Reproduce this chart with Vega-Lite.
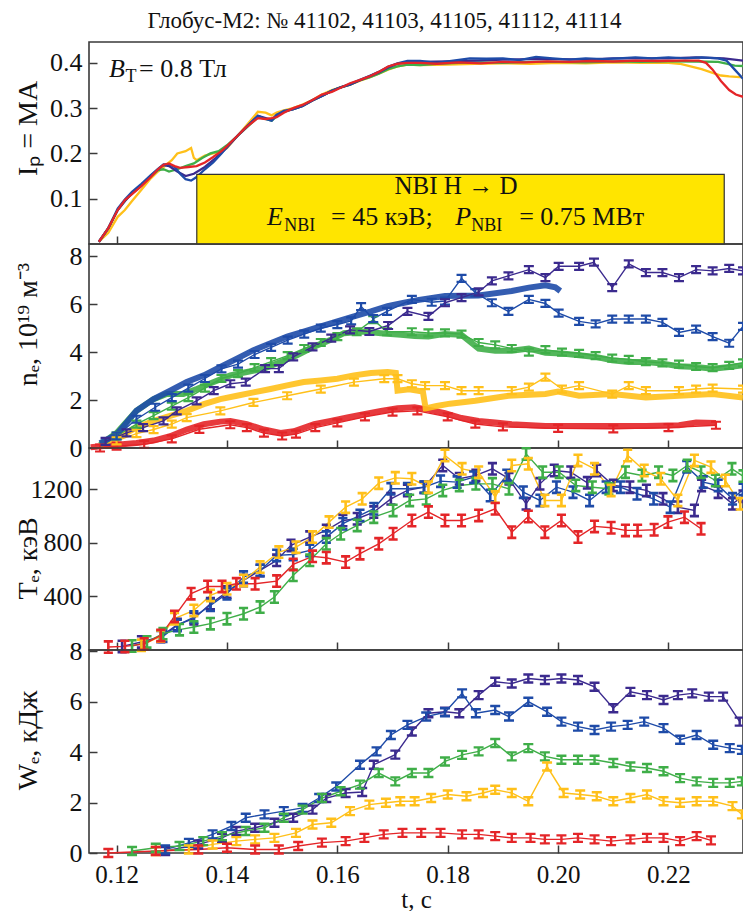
{
  "$schema": "https://vega.github.io/schema/vega-lite/v6.json",
  "background": "white",
  "padding": {"left": 13, "top": 10, "right": 0, "bottom": 0},
  "bounds": "flush",
  "spacing": 0,
  "title": {"text": "Глобус-М2: № 41102, 41103, 41105, 41112, 41114", "font": "Liberation Serif", "fontSize": 23, "fontWeight": "normal", "color": "#111", "anchor": "middle", "frame": "bounds", "offset": 8},
  "config": {
    "font": "Liberation Serif",
    "view": {"stroke": "#3a3a3a", "strokeWidth": 1.6},
    "axis": {"labelFont": "Liberation Serif", "titleFont": "Liberation Serif", "labelFontSize": 26, "titleFontSize": 28, "labelColor": "#111", "titleColor": "#111", "titleFontWeight": "normal", "grid": false, "domain": false, "tickColor": "#3a3a3a", "tickWidth": 1.5, "tickSize": -8, "zindex": 1},
    "axisY": {"labelPadding": 15, "titleX": -47, "labelFont": "Liberation Serif", "labelFontSize": 26},
    "axisX": {"labelPadding": 17, "labelFont": "Liberation Serif", "labelFontSize": 25},
    "line": {"clip": true},
    "point": {"clip": true}
  },
  "datasets": {
    "ip": [
      {"s":"41103","t":0.1168,"v":0.005},{"s":"41103","t":0.1185,"v":0.025},{"s":"41103","t":0.1202,"v":0.06},{"s":"41103","t":0.1215,"v":0.075},{"s":"41103","t":0.1228,"v":0.095},{"s":"41103","t":0.1245,"v":0.12},{"s":"41103","t":0.1262,"v":0.145},{"s":"41103","t":0.1275,"v":0.16},{"s":"41103","t":0.1285,"v":0.17},{"s":"41103","t":0.13,"v":0.185},{"s":"41103","t":0.131,"v":0.2},{"s":"41103","t":0.1325,"v":0.205},{"s":"41103","t":0.1335,"v":0.212},{"s":"41103","t":0.134,"v":0.19},{"s":"41103","t":0.1345,"v":0.185},{"s":"41103","t":0.136,"v":0.195},{"s":"41103","t":0.1375,"v":0.2},{"s":"41103","t":0.139,"v":0.205},{"s":"41103","t":0.14,"v":0.212},{"s":"41103","t":0.142,"v":0.24},{"s":"41103","t":0.1434,"v":0.26},{"s":"41103","t":0.1456,"v":0.292},{"s":"41103","t":0.147,"v":0.29},{"s":"41103","t":0.1481,"v":0.284},{"s":"41103","t":0.149,"v":0.29},{"s":"41103","t":0.1503,"v":0.295},{"s":"41103","t":0.152,"v":0.3},{"s":"41103","t":0.1537,"v":0.308},{"s":"41103","t":0.1555,"v":0.318},{"s":"41103","t":0.1572,"v":0.33},{"s":"41103","t":0.159,"v":0.34},{"s":"41103","t":0.1606,"v":0.346},{"s":"41103","t":0.1623,"v":0.352},{"s":"41103","t":0.164,"v":0.36},{"s":"41103","t":0.1658,"v":0.368},{"s":"41103","t":0.1675,"v":0.376},{"s":"41103","t":0.1692,"v":0.385},{"s":"41103","t":0.1709,"v":0.392},{"s":"41103","t":0.1727,"v":0.396},{"s":"41103","t":0.175,"v":0.395},{"s":"41103","t":0.18,"v":0.396},{"s":"41103","t":0.185,"v":0.398},{"s":"41103","t":0.19,"v":0.399},{"s":"41103","t":0.195,"v":0.398},{"s":"41103","t":0.2,"v":0.4},{"s":"41103","t":0.205,"v":0.399},{"s":"41103","t":0.21,"v":0.401},{"s":"41103","t":0.215,"v":0.4},{"s":"41103","t":0.22,"v":0.4},{"s":"41103","t":0.222,"v":0.398},{"s":"41103","t":0.224,"v":0.392},{"s":"41103","t":0.226,"v":0.386},{"s":"41103","t":0.228,"v":0.378},{"s":"41103","t":0.2295,"v":0.372},{"s":"41103","t":0.231,"v":0.37},{"s":"41103","t":0.2335,"v":0.368},
      {"s":"41105","t":0.1168,"v":0.005},{"s":"41105","t":0.1185,"v":0.035},{"s":"41105","t":0.1202,"v":0.075},{"s":"41105","t":0.1215,"v":0.095},{"s":"41105","t":0.1228,"v":0.112},{"s":"41105","t":0.1245,"v":0.13},{"s":"41105","t":0.1262,"v":0.15},{"s":"41105","t":0.1275,"v":0.163},{"s":"41105","t":0.1285,"v":0.165},{"s":"41105","t":0.1295,"v":0.16},{"s":"41105","t":0.131,"v":0.165},{"s":"41105","t":0.1325,"v":0.172},{"s":"41105","t":0.134,"v":0.178},{"s":"41105","t":0.1355,"v":0.19},{"s":"41105","t":0.137,"v":0.2},{"s":"41105","t":0.1385,"v":0.205},{"s":"41105","t":0.14,"v":0.218},{"s":"41105","t":0.142,"v":0.24},{"s":"41105","t":0.1434,"v":0.255},{"s":"41105","t":0.1456,"v":0.28},{"s":"41105","t":0.147,"v":0.276},{"s":"41105","t":0.1481,"v":0.272},{"s":"41105","t":0.149,"v":0.282},{"s":"41105","t":0.1503,"v":0.292},{"s":"41105","t":0.152,"v":0.298},{"s":"41105","t":0.1537,"v":0.305},{"s":"41105","t":0.1555,"v":0.317},{"s":"41105","t":0.1572,"v":0.327},{"s":"41105","t":0.159,"v":0.338},{"s":"41105","t":0.1606,"v":0.346},{"s":"41105","t":0.1623,"v":0.352},{"s":"41105","t":0.164,"v":0.361},{"s":"41105","t":0.1658,"v":0.368},{"s":"41105","t":0.1675,"v":0.376},{"s":"41105","t":0.1692,"v":0.386},{"s":"41105","t":0.1709,"v":0.392},{"s":"41105","t":0.1727,"v":0.396},{"s":"41105","t":0.175,"v":0.395},{"s":"41105","t":0.178,"v":0.398},{"s":"41105","t":0.182,"v":0.4},{"s":"41105","t":0.186,"v":0.401},{"s":"41105","t":0.19,"v":0.4},{"s":"41105","t":0.195,"v":0.402},{"s":"41105","t":0.2,"v":0.402},{"s":"41105","t":0.205,"v":0.401},{"s":"41105","t":0.21,"v":0.403},{"s":"41105","t":0.215,"v":0.402},{"s":"41105","t":0.22,"v":0.403},{"s":"41105","t":0.225,"v":0.403},{"s":"41105","t":0.229,"v":0.402},{"s":"41105","t":0.2305,"v":0.398},{"s":"41105","t":0.232,"v":0.394},{"s":"41105","t":0.2335,"v":0.393},
      {"s":"41114","t":0.1168,"v":0.005},{"s":"41114","t":0.1185,"v":0.035},{"s":"41114","t":0.1202,"v":0.075},{"s":"41114","t":0.1215,"v":0.095},{"s":"41114","t":0.1228,"v":0.112},{"s":"41114","t":0.1245,"v":0.13},{"s":"41114","t":0.1262,"v":0.15},{"s":"41114","t":0.1275,"v":0.165},{"s":"41114","t":0.1285,"v":0.174},{"s":"41114","t":0.1295,"v":0.172},{"s":"41114","t":0.131,"v":0.16},{"s":"41114","t":0.1325,"v":0.15},{"s":"41114","t":0.134,"v":0.155},{"s":"41114","t":0.136,"v":0.17},{"s":"41114","t":0.138,"v":0.19},{"s":"41114","t":0.14,"v":0.213},{"s":"41114","t":0.142,"v":0.24},{"s":"41114","t":0.1434,"v":0.257},{"s":"41114","t":0.1456,"v":0.283},{"s":"41114","t":0.147,"v":0.278},{"s":"41114","t":0.1481,"v":0.274},{"s":"41114","t":0.149,"v":0.285},{"s":"41114","t":0.1503,"v":0.292},{"s":"41114","t":0.152,"v":0.298},{"s":"41114","t":0.1537,"v":0.305},{"s":"41114","t":0.1555,"v":0.317},{"s":"41114","t":0.1572,"v":0.327},{"s":"41114","t":0.159,"v":0.338},{"s":"41114","t":0.1606,"v":0.346},{"s":"41114","t":0.1623,"v":0.352},{"s":"41114","t":0.164,"v":0.361},{"s":"41114","t":0.1658,"v":0.37},{"s":"41114","t":0.1675,"v":0.379},{"s":"41114","t":0.1692,"v":0.39},{"s":"41114","t":0.1709,"v":0.398},{"s":"41114","t":0.1727,"v":0.402},{"s":"41114","t":0.175,"v":0.402},{"s":"41114","t":0.18,"v":0.403},{"s":"41114","t":0.185,"v":0.405},{"s":"41114","t":0.19,"v":0.407},{"s":"41114","t":0.195,"v":0.408},{"s":"41114","t":0.2,"v":0.408},{"s":"41114","t":0.205,"v":0.407},{"s":"41114","t":0.21,"v":0.41},{"s":"41114","t":0.215,"v":0.41},{"s":"41114","t":0.22,"v":0.41},{"s":"41114","t":0.225,"v":0.412},{"s":"41114","t":0.23,"v":0.41},{"s":"41114","t":0.2335,"v":0.405},
      {"s":"41112","t":0.1168,"v":0.005},{"s":"41112","t":0.1185,"v":0.035},{"s":"41112","t":0.1202,"v":0.078},{"s":"41112","t":0.1215,"v":0.098},{"s":"41112","t":0.1228,"v":0.115},{"s":"41112","t":0.1245,"v":0.133},{"s":"41112","t":0.1262,"v":0.152},{"s":"41112","t":0.1275,"v":0.166},{"s":"41112","t":0.1285,"v":0.176},{"s":"41112","t":0.1295,"v":0.176},{"s":"41112","t":0.1305,"v":0.17},{"s":"41112","t":0.1315,"v":0.155},{"s":"41112","t":0.1325,"v":0.143},{"s":"41112","t":0.1335,"v":0.14},{"s":"41112","t":0.1345,"v":0.148},{"s":"41112","t":0.136,"v":0.165},{"s":"41112","t":0.1375,"v":0.18},{"s":"41112","t":0.139,"v":0.2},{"s":"41112","t":0.14,"v":0.214},{"s":"41112","t":0.142,"v":0.24},{"s":"41112","t":0.1434,"v":0.257},{"s":"41112","t":0.1456,"v":0.283},{"s":"41112","t":0.147,"v":0.276},{"s":"41112","t":0.1481,"v":0.272},{"s":"41112","t":0.149,"v":0.285},{"s":"41112","t":0.1503,"v":0.294},{"s":"41112","t":0.152,"v":0.298},{"s":"41112","t":0.1537,"v":0.305},{"s":"41112","t":0.1555,"v":0.318},{"s":"41112","t":0.1572,"v":0.327},{"s":"41112","t":0.159,"v":0.338},{"s":"41112","t":0.1606,"v":0.346},{"s":"41112","t":0.1623,"v":0.353},{"s":"41112","t":0.164,"v":0.362},{"s":"41112","t":0.1658,"v":0.371},{"s":"41112","t":0.1675,"v":0.38},{"s":"41112","t":0.1692,"v":0.391},{"s":"41112","t":0.1709,"v":0.399},{"s":"41112","t":0.1727,"v":0.404},{"s":"41112","t":0.175,"v":0.404},{"s":"41112","t":0.178,"v":0.4},{"s":"41112","t":0.181,"v":0.405},{"s":"41112","t":0.184,"v":0.41},{"s":"41112","t":0.187,"v":0.409},{"s":"41112","t":0.19,"v":0.41},{"s":"41112","t":0.193,"v":0.406},{"s":"41112","t":0.196,"v":0.413},{"s":"41112","t":0.199,"v":0.41},{"s":"41112","t":0.202,"v":0.407},{"s":"41112","t":0.205,"v":0.41},{"s":"41112","t":0.208,"v":0.408},{"s":"41112","t":0.211,"v":0.41},{"s":"41112","t":0.214,"v":0.412},{"s":"41112","t":0.217,"v":0.41},{"s":"41112","t":0.22,"v":0.412},{"s":"41112","t":0.223,"v":0.41},{"s":"41112","t":0.226,"v":0.412},{"s":"41112","t":0.229,"v":0.41},{"s":"41112","t":0.2305,"v":0.405},{"s":"41112","t":0.232,"v":0.385},{"s":"41112","t":0.2335,"v":0.365},
      {"s":"41102","t":0.1168,"v":0.005},{"s":"41102","t":0.1185,"v":0.035},{"s":"41102","t":0.1202,"v":0.075},{"s":"41102","t":0.1215,"v":0.097},{"s":"41102","t":0.1228,"v":0.11},{"s":"41102","t":0.1245,"v":0.128},{"s":"41102","t":0.1262,"v":0.148},{"s":"41102","t":0.1275,"v":0.165},{"s":"41102","t":0.1285,"v":0.175},{"s":"41102","t":0.1295,"v":0.178},{"s":"41102","t":0.1305,"v":0.172},{"s":"41102","t":0.1315,"v":0.168},{"s":"41102","t":0.133,"v":0.17},{"s":"41102","t":0.1345,"v":0.172},{"s":"41102","t":0.136,"v":0.18},{"s":"41102","t":0.1375,"v":0.192},{"s":"41102","t":0.139,"v":0.205},{"s":"41102","t":0.14,"v":0.216},{"s":"41102","t":0.142,"v":0.24},{"s":"41102","t":0.1434,"v":0.257},{"s":"41102","t":0.1456,"v":0.278},{"s":"41102","t":0.147,"v":0.276},{"s":"41102","t":0.1481,"v":0.278},{"s":"41102","t":0.149,"v":0.28},{"s":"41102","t":0.1503,"v":0.29},{"s":"41102","t":0.152,"v":0.3},{"s":"41102","t":0.1537,"v":0.307},{"s":"41102","t":0.1555,"v":0.318},{"s":"41102","t":0.1572,"v":0.33},{"s":"41102","t":0.159,"v":0.336},{"s":"41102","t":0.1606,"v":0.345},{"s":"41102","t":0.1623,"v":0.355},{"s":"41102","t":0.164,"v":0.362},{"s":"41102","t":0.1658,"v":0.37},{"s":"41102","t":0.1675,"v":0.38},{"s":"41102","t":0.1692,"v":0.392},{"s":"41102","t":0.1709,"v":0.398},{"s":"41102","t":0.1727,"v":0.4},{"s":"41102","t":0.175,"v":0.4},{"s":"41102","t":0.178,"v":0.398},{"s":"41102","t":0.182,"v":0.401},{"s":"41102","t":0.186,"v":0.399},{"s":"41102","t":0.19,"v":0.402},{"s":"41102","t":0.194,"v":0.401},{"s":"41102","t":0.198,"v":0.403},{"s":"41102","t":0.202,"v":0.402},{"s":"41102","t":0.206,"v":0.404},{"s":"41102","t":0.21,"v":0.403},{"s":"41102","t":0.214,"v":0.405},{"s":"41102","t":0.218,"v":0.404},{"s":"41102","t":0.222,"v":0.405},{"s":"41102","t":0.2255,"v":0.405},{"s":"41102","t":0.2268,"v":0.4},{"s":"41102","t":0.228,"v":0.385},{"s":"41102","t":0.2295,"v":0.36},{"s":"41102","t":0.231,"v":0.34},{"s":"41102","t":0.2322,"v":0.33},{"s":"41102","t":0.2335,"v":0.325}
    ],
    "nbi": [{"t0": 0.13453, "t1": 0.2301, "y0": 0, "y1": 0.1537}],
    "annVar": [{"t": 0.11864, "v": 0.369, "text": "B"}, {"t": 0.14727, "v": 0.041, "text": "E"}, {"t": 0.18134, "v": 0.041, "text": "P"}],
    "annSub": [{"t": 0.12161, "v": 0.357, "text": "T"}, {"t": 0.15036, "v": 0.029, "text": "NBI"}, {"t": 0.18424, "v": 0.029, "text": "NBI"}],
    "annReg": [{"t": 0.12406, "v": 0.369, "text": "= 0.8 Тл"}, {"t": 0.15887, "v": 0.041, "text": "= 45 кэВ;"}, {"t": 0.19294, "v": 0.041, "text": "= 0.75 МВт"}],
    "annMid": [{"t": 0.1815, "v": 0.11, "text": "NBI H → D"}],
    "ne": [
      {"s":"41102","k":"thick","t":0.1153,"v":0.03},{"s":"41102","k":"thick","t":0.12,"v":0.14},{"s":"41102","k":"thick","t":0.1236,"v":0.21},{"s":"41102","k":"thick","t":0.1267,"v":0.31},{"s":"41102","k":"thick","t":0.1297,"v":0.49},{"s":"41102","k":"thick","t":0.1327,"v":0.77},{"s":"41102","k":"thick","t":0.1358,"v":0.99},{"s":"41102","k":"thick","t":0.1388,"v":1.1},{"s":"41102","k":"thick","t":0.1406,"v":1.13},{"s":"41102","k":"thick","t":0.1436,"v":0.99},{"s":"41102","k":"thick","t":0.1467,"v":0.77},{"s":"41102","k":"thick","t":0.1497,"v":0.63},{"s":"41102","k":"thick","t":0.1521,"v":0.7},{"s":"41102","k":"thick","t":0.1558,"v":0.99},{"s":"41102","k":"thick","t":0.1588,"v":1.13},{"s":"41102","k":"thick","t":0.1618,"v":1.27},{"s":"41102","k":"thick","t":0.1648,"v":1.41},{"s":"41102","k":"thick","t":0.1679,"v":1.55},{"s":"41102","k":"thick","t":0.1709,"v":1.66},{"s":"41102","k":"thick","t":0.174,"v":1.7},{"s":"41102","k":"thick","t":0.1765,"v":1.6},{"s":"41102","k":"thick","t":0.1795,"v":1.45},{"s":"41102","k":"thick","t":0.1825,"v":1.25},{"s":"41102","k":"thick","t":0.1856,"v":1.13},{"s":"41102","k":"thick","t":0.1886,"v":1.06},{"s":"41102","k":"thick","t":0.1916,"v":0.99},{"s":"41102","k":"thick","t":0.1977,"v":0.92},{"s":"41102","k":"thick","t":0.2038,"v":0.92},{"s":"41102","k":"thick","t":0.2098,"v":0.92},{"s":"41102","k":"thick","t":0.2159,"v":0.92},{"s":"41102","k":"thick","t":0.2219,"v":0.95},{"s":"41102","k":"thick","t":0.225,"v":1.06},{"s":"41102","k":"thick","t":0.2286,"v":1.04},
      {"s":"41102","k":"thin","t":0.117,"v":0.0},{"s":"41102","k":"thin","t":0.12,"v":0.08},{"s":"41102","k":"thin","t":0.125,"v":0.15},{"s":"41102","k":"thin","t":0.13,"v":0.38},{"s":"41102","k":"thin","t":0.135,"v":0.78},{"s":"41102","k":"thin","t":0.1406,"v":0.97},{"s":"41102","k":"thin","t":0.1436,"v":0.85},{"s":"41102","k":"thin","t":0.1467,"v":0.62},{"s":"41102","k":"thin","t":0.15,"v":0.5},{"s":"41102","k":"thin","t":0.1525,"v":0.58},{"s":"41102","k":"thin","t":0.156,"v":0.85},{"s":"41102","k":"thin","t":0.16,"v":1.05},{"s":"41102","k":"thin","t":0.165,"v":1.3},{"s":"41102","k":"thin","t":0.17,"v":1.5},{"s":"41102","k":"thin","t":0.1745,"v":1.55},{"s":"41102","k":"thin","t":0.18,"v":1.3},{"s":"41102","k":"thin","t":0.185,"v":1.0},{"s":"41102","k":"thin","t":0.19,"v":0.88},{"s":"41102","k":"thin","t":0.2,"v":0.82},{"s":"41102","k":"thin","t":0.21,"v":0.8},{"s":"41102","k":"thin","t":0.22,"v":0.85},{"s":"41102","k":"thin","t":0.2286,"v":0.95},
      {"s":"41103","k":"thick","t":0.1172,"v":0.2},{"s":"41103","k":"thick","t":0.12,"v":0.42},{"s":"41103","k":"thick","t":0.1236,"v":0.85},{"s":"41103","k":"thick","t":0.1267,"v":1.13},{"s":"41103","k":"thick","t":0.1297,"v":1.34},{"s":"41103","k":"thick","t":0.1327,"v":1.55},{"s":"41103","k":"thick","t":0.1358,"v":1.83},{"s":"41103","k":"thick","t":0.1388,"v":2.04},{"s":"41103","k":"thick","t":0.1418,"v":2.18},{"s":"41103","k":"thick","t":0.1448,"v":2.32},{"s":"41103","k":"thick","t":0.1479,"v":2.46},{"s":"41103","k":"thick","t":0.1509,"v":2.61},{"s":"41103","k":"thick","t":0.1539,"v":2.75},{"s":"41103","k":"thick","t":0.157,"v":2.82},{"s":"41103","k":"thick","t":0.16,"v":2.89},{"s":"41103","k":"thick","t":0.163,"v":3.03},{"s":"41103","k":"thick","t":0.1661,"v":3.13},{"s":"41103","k":"thick","t":0.1691,"v":3.17},{"s":"41103","k":"thick","t":0.1706,"v":3.13},{"s":"41103","k":"thick","t":0.1709,"v":2.39},{"s":"41103","k":"thick","t":0.173,"v":2.45},{"s":"41103","k":"thick","t":0.1755,"v":2.35},{"s":"41103","k":"thick","t":0.176,"v":1.65},{"s":"41103","k":"thick","t":0.178,"v":1.75},{"s":"41103","k":"thick","t":0.1804,"v":1.85},{"s":"41103","k":"thick","t":0.185,"v":1.97},{"s":"41103","k":"thick","t":0.191,"v":2.18},{"s":"41103","k":"thick","t":0.1977,"v":2.25},{"s":"41103","k":"thick","t":0.2,"v":2.35},{"s":"41103","k":"thick","t":0.2038,"v":2.18},{"s":"41103","k":"thick","t":0.2098,"v":2.25},{"s":"41103","k":"thick","t":0.2159,"v":2.11},{"s":"41103","k":"thick","t":0.2219,"v":2.18},{"s":"41103","k":"thick","t":0.228,"v":2.25},{"s":"41103","k":"thick","t":0.2335,"v":2.11},
      {"s":"41103","k":"thin","t":0.12,"v":0.3},{"s":"41103","k":"thin","t":0.1236,"v":0.6},{"s":"41103","k":"thin","t":0.1267,"v":0.77},{"s":"41103","k":"thin","t":0.13,"v":1.0},{"s":"41103","k":"thin","t":0.1327,"v":1.27},{"s":"41103","k":"thin","t":0.1388,"v":1.55},{"s":"41103","k":"thin","t":0.1448,"v":1.9},{"s":"41103","k":"thin","t":0.1509,"v":2.18},{"s":"41103","k":"thin","t":0.157,"v":2.46},{"s":"41103","k":"thin","t":0.163,"v":2.75},{"s":"41103","k":"thin","t":0.1685,"v":2.89},{"s":"41103","k":"thin","t":0.1709,"v":2.89},{"s":"41103","k":"thin","t":0.1735,"v":2.68},{"s":"41103","k":"thin","t":0.1759,"v":2.6},{"s":"41103","k":"thin","t":0.1795,"v":2.6},{"s":"41103","k":"thin","t":0.1825,"v":2.39},{"s":"41103","k":"thin","t":0.1856,"v":2.39},{"s":"41103","k":"thin","t":0.1916,"v":2.39},{"s":"41103","k":"thin","t":0.1947,"v":2.54},{"s":"41103","k":"thin","t":0.1977,"v":2.96},{"s":"41103","k":"thin","t":0.2007,"v":2.46},{"s":"41103","k":"thin","t":0.2038,"v":2.6},{"s":"41103","k":"thin","t":0.2098,"v":2.25},{"s":"41103","k":"thin","t":0.2128,"v":2.6},{"s":"41103","k":"thin","t":0.2159,"v":2.39},{"s":"41103","k":"thin","t":0.2219,"v":2.39},{"s":"41103","k":"thin","t":0.225,"v":2.46},{"s":"41103","k":"thin","t":0.228,"v":2.5},{"s":"41103","k":"thin","t":0.2335,"v":2.46},
      {"s":"41105","k":"thick","t":0.117,"v":0.14},{"s":"41105","k":"thick","t":0.12,"v":0.63},{"s":"41105","k":"thick","t":0.1236,"v":1.55},{"s":"41105","k":"thick","t":0.1267,"v":2.04},{"s":"41105","k":"thick","t":0.1291,"v":2.25},{"s":"41105","k":"thick","t":0.1321,"v":2.25},{"s":"41105","k":"thick","t":0.1345,"v":2.46},{"s":"41105","k":"thick","t":0.1376,"v":2.75},{"s":"41105","k":"thick","t":0.1406,"v":3.03},{"s":"41105","k":"thick","t":0.1436,"v":3.17},{"s":"41105","k":"thick","t":0.1467,"v":3.31},{"s":"41105","k":"thick","t":0.1497,"v":3.59},{"s":"41105","k":"thick","t":0.1527,"v":3.87},{"s":"41105","k":"thick","t":0.1558,"v":4.23},{"s":"41105","k":"thick","t":0.1588,"v":4.51},{"s":"41105","k":"thick","t":0.1612,"v":4.79},{"s":"41105","k":"thick","t":0.1648,"v":4.86},{"s":"41105","k":"thick","t":0.1679,"v":4.79},{"s":"41105","k":"thick","t":0.1715,"v":4.72},{"s":"41105","k":"thick","t":0.174,"v":4.67},{"s":"41105","k":"thick","t":0.1765,"v":4.65},{"s":"41105","k":"thick","t":0.1795,"v":4.76},{"s":"41105","k":"thick","t":0.1825,"v":4.72},{"s":"41105","k":"thick","t":0.1856,"v":4.15},{"s":"41105","k":"thick","t":0.1886,"v":4.06},{"s":"41105","k":"thick","t":0.1916,"v":4.06},{"s":"41105","k":"thick","t":0.1947,"v":4.15},{"s":"41105","k":"thick","t":0.1977,"v":3.97},{"s":"41105","k":"thick","t":0.2007,"v":3.94},{"s":"41105","k":"thick","t":0.2038,"v":3.87},{"s":"41105","k":"thick","t":0.2068,"v":3.8},{"s":"41105","k":"thick","t":0.2098,"v":3.66},{"s":"41105","k":"thick","t":0.2128,"v":3.59},{"s":"41105","k":"thick","t":0.2159,"v":3.59},{"s":"41105","k":"thick","t":0.2189,"v":3.52},{"s":"41105","k":"thick","t":0.2219,"v":3.41},{"s":"41105","k":"thick","t":0.225,"v":3.38},{"s":"41105","k":"thick","t":0.228,"v":3.31},{"s":"41105","k":"thick","t":0.231,"v":3.38},{"s":"41105","k":"thick","t":0.2335,"v":3.45},
      {"s":"41105","k":"thin","t":0.12,"v":0.5},{"s":"41105","k":"thin","t":0.1236,"v":1.0},{"s":"41105","k":"thin","t":0.1267,"v":1.35},{"s":"41105","k":"thin","t":0.13,"v":1.75},{"s":"41105","k":"thin","t":0.133,"v":2.1},{"s":"41105","k":"thin","t":0.136,"v":2.5},{"s":"41105","k":"thin","t":0.139,"v":2.9},{"s":"41105","k":"thin","t":0.142,"v":3.1},{"s":"41105","k":"thin","t":0.145,"v":3.35},{"s":"41105","k":"thin","t":0.148,"v":3.6},{"s":"41105","k":"thin","t":0.151,"v":3.85},{"s":"41105","k":"thin","t":0.154,"v":4.15},{"s":"41105","k":"thin","t":0.157,"v":4.4},{"s":"41105","k":"thin","t":0.16,"v":4.65},{"s":"41105","k":"thin","t":0.1635,"v":4.85},{"s":"41105","k":"thin","t":0.1665,"v":5.35},{"s":"41105","k":"thin","t":0.169,"v":4.85},{"s":"41105","k":"thin","t":0.1735,"v":4.85},{"s":"41105","k":"thin","t":0.1765,"v":4.8},{"s":"41105","k":"thin","t":0.1795,"v":4.8},{"s":"41105","k":"thin","t":0.1825,"v":4.75},{"s":"41105","k":"thin","t":0.1856,"v":4.4},{"s":"41105","k":"thin","t":0.1886,"v":4.3},{"s":"41105","k":"thin","t":0.1916,"v":4.15},{"s":"41105","k":"thin","t":0.1947,"v":4.0},{"s":"41105","k":"thin","t":0.1977,"v":4.1},{"s":"41105","k":"thin","t":0.2007,"v":4.0},{"s":"41105","k":"thin","t":0.2038,"v":3.95},{"s":"41105","k":"thin","t":0.2068,"v":3.85},{"s":"41105","k":"thin","t":0.2098,"v":3.75},{"s":"41105","k":"thin","t":0.2128,"v":3.7},{"s":"41105","k":"thin","t":0.2159,"v":3.6},{"s":"41105","k":"thin","t":0.2189,"v":3.55},{"s":"41105","k":"thin","t":0.2219,"v":3.5},{"s":"41105","k":"thin","t":0.225,"v":3.4},{"s":"41105","k":"thin","t":0.228,"v":3.35},{"s":"41105","k":"thin","t":0.231,"v":3.45},{"s":"41105","k":"thin","t":0.2335,"v":3.55},
      {"s":"41112","k":"thick","t":0.117,"v":0.2},{"s":"41112","k":"thick","t":0.12,"v":0.56},{"s":"41112","k":"thick","t":0.1236,"v":1.55},{"s":"41112","k":"thick","t":0.1267,"v":2.04},{"s":"41112","k":"thick","t":0.1297,"v":2.39},{"s":"41112","k":"thick","t":0.1327,"v":2.75},{"s":"41112","k":"thick","t":0.1358,"v":3.03},{"s":"41112","k":"thick","t":0.1388,"v":3.38},{"s":"41112","k":"thick","t":0.1418,"v":3.73},{"s":"41112","k":"thick","t":0.1448,"v":4.08},{"s":"41112","k":"thick","t":0.1479,"v":4.37},{"s":"41112","k":"thick","t":0.1509,"v":4.65},{"s":"41112","k":"thick","t":0.1539,"v":4.86},{"s":"41112","k":"thick","t":0.157,"v":5.07},{"s":"41112","k":"thick","t":0.16,"v":5.28},{"s":"41112","k":"thick","t":0.163,"v":5.49},{"s":"41112","k":"thick","t":0.1661,"v":5.7},{"s":"41112","k":"thick","t":0.1691,"v":5.92},{"s":"41112","k":"thick","t":0.1721,"v":6.06},{"s":"41112","k":"thick","t":0.1745,"v":6.17},{"s":"41112","k":"thick","t":0.1795,"v":6.34},{"s":"41112","k":"thick","t":0.1856,"v":6.36},{"s":"41112","k":"thick","t":0.1916,"v":6.55},{"s":"41112","k":"thick","t":0.1947,"v":6.69},{"s":"41112","k":"thick","t":0.1977,"v":6.79},{"s":"41112","k":"thick","t":0.1995,"v":6.7},{"s":"41112","k":"thick","t":0.2004,"v":6.55},
      {"s":"41112","k":"thin","t":0.12,"v":0.5},{"s":"41112","k":"thin","t":0.1236,"v":1.2},{"s":"41112","k":"thin","t":0.127,"v":1.7},{"s":"41112","k":"thin","t":0.13,"v":2.1},{"s":"41112","k":"thin","t":0.133,"v":2.5},{"s":"41112","k":"thin","t":0.136,"v":2.9},{"s":"41112","k":"thin","t":0.139,"v":3.3},{"s":"41112","k":"thin","t":0.142,"v":3.5},{"s":"41112","k":"thin","t":0.145,"v":3.9},{"s":"41112","k":"thin","t":0.148,"v":4.2},{"s":"41112","k":"thin","t":0.151,"v":4.5},{"s":"41112","k":"thin","t":0.154,"v":4.75},{"s":"41112","k":"thin","t":0.157,"v":5.0},{"s":"41112","k":"thin","t":0.16,"v":5.15},{"s":"41112","k":"thin","t":0.1625,"v":5.3},{"s":"41112","k":"thin","t":0.1643,"v":5.9},{"s":"41112","k":"thin","t":0.1665,"v":5.4},{"s":"41112","k":"thin","t":0.169,"v":5.7},{"s":"41112","k":"thin","t":0.1735,"v":6.2},{"s":"41112","k":"thin","t":0.1771,"v":6.08},{"s":"41112","k":"thin","t":0.1795,"v":6.13},{"s":"41112","k":"thin","t":0.1825,"v":7.08},{"s":"41112","k":"thin","t":0.185,"v":6.48},{"s":"41112","k":"thin","t":0.188,"v":6.06},{"s":"41112","k":"thin","t":0.191,"v":5.7},{"s":"41112","k":"thin","t":0.1947,"v":6.2},{"s":"41112","k":"thin","t":0.1977,"v":6.03},{"s":"41112","k":"thin","t":0.2001,"v":5.63},{"s":"41112","k":"thin","t":0.2038,"v":5.28},{"s":"41112","k":"thin","t":0.2068,"v":5.18},{"s":"41112","k":"thin","t":0.2098,"v":5.38},{"s":"41112","k":"thin","t":0.2128,"v":5.38},{"s":"41112","k":"thin","t":0.2159,"v":5.38},{"s":"41112","k":"thin","t":0.2189,"v":5.24},{"s":"41112","k":"thin","t":0.2219,"v":4.82},{"s":"41112","k":"thin","t":0.225,"v":4.96},{"s":"41112","k":"thin","t":0.228,"v":4.65},{"s":"41112","k":"thin","t":0.231,"v":4.37},{"s":"41112","k":"thin","t":0.2335,"v":5.07},
      {"s":"41114","k":"thin","t":0.118,"v":0.28},{"s":"41114","k":"thin","t":0.1218,"v":0.63},{"s":"41114","k":"thin","t":0.1248,"v":0.85},{"s":"41114","k":"thin","t":0.1285,"v":1.13},{"s":"41114","k":"thin","t":0.1309,"v":1.55},{"s":"41114","k":"thin","t":0.1345,"v":1.97},{"s":"41114","k":"thin","t":0.1376,"v":2.39},{"s":"41114","k":"thin","t":0.1406,"v":2.68},{"s":"41114","k":"thin","t":0.1434,"v":2.75},{"s":"41114","k":"thin","t":0.1469,"v":3.31},{"s":"41114","k":"thin","t":0.1494,"v":3.31},{"s":"41114","k":"thin","t":0.152,"v":3.8},{"s":"41114","k":"thin","t":0.1555,"v":4.22},{"s":"41114","k":"thin","t":0.1589,"v":4.58},{"s":"41114","k":"thin","t":0.1623,"v":4.93},{"s":"41114","k":"thin","t":0.1658,"v":4.86},{"s":"41114","k":"thin","t":0.1692,"v":5.11},{"s":"41114","k":"thin","t":0.1727,"v":5.7},{"s":"41114","k":"thin","t":0.1765,"v":5.49},{"s":"41114","k":"thin","t":0.1795,"v":6.06},{"s":"41114","k":"thin","t":0.1825,"v":6.27},{"s":"41114","k":"thin","t":0.1856,"v":6.51},{"s":"41114","k":"thin","t":0.188,"v":6.97},{"s":"41114","k":"thin","t":0.191,"v":7.18},{"s":"41114","k":"thin","t":0.1947,"v":7.44},{"s":"41114","k":"thin","t":0.1977,"v":7.11},{"s":"41114","k":"thin","t":0.2001,"v":7.58},{"s":"41114","k":"thin","t":0.2038,"v":7.58},{"s":"41114","k":"thin","t":0.2065,"v":7.75},{"s":"41114","k":"thin","t":0.2098,"v":6.69},{"s":"41114","k":"thin","t":0.2128,"v":7.68},{"s":"41114","k":"thin","t":0.2159,"v":7.32},{"s":"41114","k":"thin","t":0.2189,"v":7.32},{"s":"41114","k":"thin","t":0.2219,"v":7.11},{"s":"41114","k":"thin","t":0.225,"v":7.44},{"s":"41114","k":"thin","t":0.228,"v":7.39},{"s":"41114","k":"thin","t":0.231,"v":7.49},{"s":"41114","k":"thin","t":0.2335,"v":7.39}
    ],
    "te": [
      {"s":"41114","t":0.121,"v":27},{"s":"41114","t":0.1245,"v":60},{"s":"41114","t":0.128,"v":100},{"s":"41114","t":0.131,"v":190},{"s":"41114","t":0.134,"v":234},{"s":"41114","t":0.137,"v":346},{"s":"41114","t":0.14,"v":433},{"s":"41114","t":0.143,"v":520},{"s":"41114","t":0.146,"v":595},{"s":"41114","t":0.149,"v":670},{"s":"41114","t":0.1516,"v":782},{"s":"41114","t":0.155,"v":844},{"s":"41114","t":0.158,"v":894},{"s":"41114","t":0.161,"v":968},{"s":"41114","t":0.1636,"v":981},{"s":"41114","t":0.1666,"v":1031},{"s":"41114","t":0.1697,"v":1130},{"s":"41114","t":0.1727,"v":1193},{"s":"41114","t":0.1757,"v":1217},{"s":"41114","t":0.1791,"v":1379},{"s":"41114","t":0.1821,"v":1280},{"s":"41114","t":0.1851,"v":1305},{"s":"41114","t":0.1881,"v":1354},{"s":"41114","t":0.1911,"v":1280},{"s":"41114","t":0.1942,"v":1093},{"s":"41114","t":0.1967,"v":1242},{"s":"41114","t":0.1993,"v":1342},{"s":"41114","t":0.2023,"v":1329},{"s":"41114","t":0.2053,"v":1250},{"s":"41114","t":0.207,"v":1342},{"s":"41114","t":0.21,"v":1230},{"s":"41114","t":0.213,"v":1217},{"s":"41114","t":0.216,"v":1193},{"s":"41114","t":0.219,"v":1130},{"s":"41114","t":0.2217,"v":1068},{"s":"41114","t":0.2247,"v":1043},{"s":"41114","t":0.226,"v":1230},{"s":"41114","t":0.229,"v":1180},{"s":"41114","t":0.2316,"v":1093},{"s":"41114","t":0.2335,"v":1150},
      {"s":"41112","t":0.1284,"v":102},{"s":"41112","t":0.131,"v":184},{"s":"41112","t":0.134,"v":246},{"s":"41112","t":0.137,"v":334},{"s":"41112","t":0.14,"v":421},{"s":"41112","t":0.143,"v":545},{"s":"41112","t":0.146,"v":595},{"s":"41112","t":0.149,"v":707},{"s":"41112","t":0.152,"v":714},{"s":"41112","t":0.155,"v":744},{"s":"41112","t":0.158,"v":844},{"s":"41112","t":0.161,"v":944},{"s":"41112","t":0.1641,"v":1006},{"s":"41112","t":0.1666,"v":1056},{"s":"41112","t":0.1697,"v":1205},{"s":"41112","t":0.1727,"v":1205},{"s":"41112","t":0.1757,"v":1217},{"s":"41112","t":0.1787,"v":1262},{"s":"41112","t":0.1817,"v":1255},{"s":"41112","t":0.1847,"v":1292},{"s":"41112","t":0.1877,"v":1155},{"s":"41112","t":0.1907,"v":1305},{"s":"41112","t":0.1937,"v":1180},{"s":"41112","t":0.1967,"v":1118},{"s":"41112","t":0.1997,"v":1217},{"s":"41112","t":0.2027,"v":1180},{"s":"41112","t":0.2057,"v":1118},{"s":"41112","t":0.2087,"v":1217},{"s":"41112","t":0.2113,"v":1217},{"s":"41112","t":0.2143,"v":1168},{"s":"41112","t":0.2173,"v":1130},{"s":"41112","t":0.2203,"v":1068},{"s":"41112","t":0.2233,"v":1370},{"s":"41112","t":0.2263,"v":1255},{"s":"41112","t":0.229,"v":1230},{"s":"41112","t":0.2316,"v":1130},{"s":"41112","t":0.2335,"v":1200},
      {"s":"41105","t":0.1228,"v":30},{"s":"41105","t":0.1255,"v":60},{"s":"41105","t":0.1284,"v":122},{"s":"41105","t":0.1314,"v":152},{"s":"41105","t":0.134,"v":172},{"s":"41105","t":0.137,"v":197},{"s":"41105","t":0.14,"v":234},{"s":"41105","t":0.143,"v":271},{"s":"41105","t":0.146,"v":321},{"s":"41105","t":0.1486,"v":396},{"s":"41105","t":0.152,"v":558},{"s":"41105","t":0.155,"v":670},{"s":"41105","t":0.158,"v":794},{"s":"41105","t":0.1606,"v":869},{"s":"41105","t":0.1636,"v":931},{"s":"41105","t":0.1666,"v":993},{"s":"41105","t":0.1701,"v":1043},{"s":"41105","t":0.1731,"v":1118},{"s":"41105","t":0.1761,"v":1130},{"s":"41105","t":0.1791,"v":1193},{"s":"41105","t":0.1821,"v":1230},{"s":"41105","t":0.1851,"v":1242},{"s":"41105","t":0.1881,"v":1242},{"s":"41105","t":0.1911,"v":1205},{"s":"41105","t":0.1942,"v":1466},{"s":"41105","t":0.1972,"v":1329},{"s":"41105","t":0.2002,"v":1329},{"s":"41105","t":0.2032,"v":1230},{"s":"41105","t":0.2062,"v":1217},{"s":"41105","t":0.2092,"v":1205},{"s":"41105","t":0.2122,"v":1329},{"s":"41105","t":0.2152,"v":1305},{"s":"41105","t":0.2182,"v":1329},{"s":"41105","t":0.2208,"v":1305},{"s":"41105","t":0.2234,"v":1379},{"s":"41105","t":0.2259,"v":1329},{"s":"41105","t":0.2285,"v":1267},{"s":"41105","t":0.2315,"v":1354},{"s":"41105","t":0.2335,"v":1300},
      {"s":"41103","t":0.1245,"v":35},{"s":"41103","t":0.128,"v":104},{"s":"41103","t":0.1305,"v":234},{"s":"41103","t":0.134,"v":296},{"s":"41103","t":0.137,"v":408},{"s":"41103","t":0.14,"v":458},{"s":"41103","t":0.143,"v":520},{"s":"41103","t":0.146,"v":620},{"s":"41103","t":0.1494,"v":732},{"s":"41103","t":0.1525,"v":769},{"s":"41103","t":0.1555,"v":844},{"s":"41103","t":0.1585,"v":956},{"s":"41103","t":0.1615,"v":1068},{"s":"41103","t":0.1645,"v":1130},{"s":"41103","t":0.1675,"v":1247},{"s":"41103","t":0.1705,"v":1287},{"s":"41103","t":0.1735,"v":1280},{"s":"41103","t":0.1765,"v":1217},{"s":"41103","t":0.1795,"v":1454},{"s":"41103","t":0.1826,"v":1354},{"s":"41103","t":0.1856,"v":1329},{"s":"41103","t":0.1886,"v":1143},{"s":"41103","t":0.1916,"v":1379},{"s":"41103","t":0.1946,"v":1392},{"s":"41103","t":0.1976,"v":1118},{"s":"41103","t":0.2006,"v":1118},{"s":"41103","t":0.2036,"v":1417},{"s":"41103","t":0.2066,"v":1354},{"s":"41103","t":0.2096,"v":1193},{"s":"41103","t":0.2126,"v":1454},{"s":"41103","t":0.2156,"v":1342},{"s":"41103","t":0.2186,"v":1280},{"s":"41103","t":0.2217,"v":1118},{"s":"41103","t":0.2247,"v":1417},{"s":"41103","t":0.2277,"v":1367},{"s":"41103","t":0.2303,"v":1267},{"s":"41103","t":0.233,"v":1093},
      {"s":"41102","t":0.1185,"v":22},{"s":"41102","t":0.1215,"v":27},{"s":"41102","t":0.125,"v":45},{"s":"41102","t":0.128,"v":109},{"s":"41102","t":0.1305,"v":251},{"s":"41102","t":0.1335,"v":421},{"s":"41102","t":0.1365,"v":475},{"s":"41102","t":0.1391,"v":475},{"s":"41102","t":0.1417,"v":495},{"s":"41102","t":0.1451,"v":495},{"s":"41102","t":0.149,"v":515},{"s":"41102","t":0.152,"v":640},{"s":"41102","t":0.1555,"v":700},{"s":"41102","t":0.158,"v":690},{"s":"41102","t":0.1615,"v":657},{"s":"41102","t":0.1641,"v":720},{"s":"41102","t":0.1675,"v":794},{"s":"41102","t":0.1701,"v":869},{"s":"41102","t":0.1735,"v":968},{"s":"41102","t":0.1765,"v":1031},{"s":"41102","t":0.1795,"v":968},{"s":"41102","t":0.1825,"v":968},{"s":"41102","t":0.1856,"v":1006},{"s":"41102","t":0.1886,"v":1056},{"s":"41102","t":0.1916,"v":881},{"s":"41102","t":0.1946,"v":998},{"s":"41102","t":0.1976,"v":881},{"s":"41102","t":0.2006,"v":968},{"s":"41102","t":0.2036,"v":844},{"s":"41102","t":0.2066,"v":924},{"s":"41102","t":0.2096,"v":914},{"s":"41102","t":0.2122,"v":894},{"s":"41102","t":0.2144,"v":894},{"s":"41102","t":0.2174,"v":899},{"s":"41102","t":0.2199,"v":956},{"s":"41102","t":0.2229,"v":993},{"s":"41102","t":0.2259,"v":906}
    ],
    "we": [
      {"s":"41114","t":0.1288,"v":0.08},{"s":"41114","t":0.1348,"v":0.34},{"s":"41114","t":0.1391,"v":0.6},{"s":"41114","t":0.1417,"v":0.87},{"s":"41114","t":0.1451,"v":1.0},{"s":"41114","t":0.1486,"v":1.2},{"s":"41114","t":0.152,"v":1.4},{"s":"41114","t":0.1555,"v":1.72},{"s":"41114","t":0.158,"v":2.18},{"s":"41114","t":0.1615,"v":2.38},{"s":"41114","t":0.1645,"v":2.42},{"s":"41114","t":0.1666,"v":3.5},{"s":"41114","t":0.1705,"v":3.9},{"s":"41114","t":0.1735,"v":4.82},{"s":"41114","t":0.1765,"v":5.54},{"s":"41114","t":0.1795,"v":5.6},{"s":"41114","t":0.1821,"v":5.54},{"s":"41114","t":0.1856,"v":6.26},{"s":"41114","t":0.1886,"v":6.79},{"s":"41114","t":0.1916,"v":6.72},{"s":"41114","t":0.1946,"v":6.92},{"s":"41114","t":0.1976,"v":6.86},{"s":"41114","t":0.2006,"v":6.92},{"s":"41114","t":0.2036,"v":6.86},{"s":"41114","t":0.2066,"v":6.59},{"s":"41114","t":0.21,"v":5.74},{"s":"41114","t":0.2131,"v":6.39},{"s":"41114","t":0.2161,"v":6.26},{"s":"41114","t":0.2191,"v":6.07},{"s":"41114","t":0.2217,"v":6.26},{"s":"41114","t":0.2243,"v":6.33},{"s":"41114","t":0.2273,"v":6.2},{"s":"41114","t":0.2299,"v":6.2},{"s":"41114","t":0.2329,"v":5.21},
      {"s":"41112","t":0.1288,"v":0.14},{"s":"41112","t":0.1331,"v":0.4},{"s":"41112","t":0.1374,"v":0.74},{"s":"41112","t":0.1408,"v":1.07},{"s":"41112","t":0.1434,"v":1.4},{"s":"41112","t":0.1468,"v":1.53},{"s":"41112","t":0.1503,"v":1.66},{"s":"41112","t":0.1537,"v":1.79},{"s":"41112","t":0.1567,"v":2.18},{"s":"41112","t":0.1598,"v":2.64},{"s":"41112","t":0.1641,"v":3.5},{"s":"41112","t":0.1671,"v":4.03},{"s":"41112","t":0.1697,"v":4.68},{"s":"41112","t":0.1727,"v":5.08},{"s":"41112","t":0.1761,"v":5.41},{"s":"41112","t":0.1795,"v":5.58},{"s":"41112","t":0.1826,"v":6.33},{"s":"41112","t":0.1851,"v":5.54},{"s":"41112","t":0.1886,"v":5.67},{"s":"41112","t":0.1911,"v":5.41},{"s":"41112","t":0.1946,"v":6.0},{"s":"41112","t":0.198,"v":5.6},{"s":"41112","t":0.2006,"v":5.21},{"s":"41112","t":0.2036,"v":5.01},{"s":"41112","t":0.2066,"v":4.88},{"s":"41112","t":0.2096,"v":5.01},{"s":"41112","t":0.2126,"v":5.08},{"s":"41112","t":0.2156,"v":5.21},{"s":"41112","t":0.2191,"v":4.95},{"s":"41112","t":0.2221,"v":4.49},{"s":"41112","t":0.2251,"v":4.68},{"s":"41112","t":0.2281,"v":4.29},{"s":"41112","t":0.2311,"v":4.16},{"s":"41112","t":0.2333,"v":4.09},
      {"s":"41105","t":0.1228,"v":0.08},{"s":"41105","t":0.1271,"v":0.21},{"s":"41105","t":0.1314,"v":0.28},{"s":"41105","t":0.1357,"v":0.47},{"s":"41105","t":0.1391,"v":0.67},{"s":"41105","t":0.1434,"v":0.87},{"s":"41105","t":0.1468,"v":1.0},{"s":"41105","t":0.1503,"v":1.4},{"s":"41105","t":0.1537,"v":1.72},{"s":"41105","t":0.1572,"v":2.18},{"s":"41105","t":0.1606,"v":2.45},{"s":"41105","t":0.1641,"v":2.71},{"s":"41105","t":0.1675,"v":3.17},{"s":"41105","t":0.1705,"v":2.84},{"s":"41105","t":0.1735,"v":3.17},{"s":"41105","t":0.1765,"v":3.17},{"s":"41105","t":0.1795,"v":3.63},{"s":"41105","t":0.1826,"v":3.89},{"s":"41105","t":0.1856,"v":4.03},{"s":"41105","t":0.1886,"v":4.36},{"s":"41105","t":0.1916,"v":3.83},{"s":"41105","t":0.1946,"v":4.16},{"s":"41105","t":0.1976,"v":3.83},{"s":"41105","t":0.2006,"v":3.7},{"s":"41105","t":0.2036,"v":3.7},{"s":"41105","t":0.2066,"v":3.7},{"s":"41105","t":0.21,"v":3.57},{"s":"41105","t":0.2131,"v":3.43},{"s":"41105","t":0.2161,"v":3.37},{"s":"41105","t":0.2191,"v":3.24},{"s":"41105","t":0.2221,"v":2.97},{"s":"41105","t":0.2251,"v":2.84},{"s":"41105","t":0.2281,"v":2.78},{"s":"41105","t":0.2311,"v":2.78},{"s":"41105","t":0.2333,"v":2.84},
      {"s":"41103","t":0.1271,"v":0.08},{"s":"41103","t":0.1331,"v":0.14},{"s":"41103","t":0.1374,"v":0.34},{"s":"41103","t":0.1417,"v":0.47},{"s":"41103","t":0.1451,"v":0.54},{"s":"41103","t":0.1486,"v":0.6},{"s":"41103","t":0.1525,"v":0.8},{"s":"41103","t":0.1555,"v":1.13},{"s":"41103","t":0.1589,"v":1.2},{"s":"41103","t":0.1623,"v":1.66},{"s":"41103","t":0.1658,"v":1.92},{"s":"41103","t":0.1688,"v":1.99},{"s":"41103","t":0.1714,"v":2.05},{"s":"41103","t":0.174,"v":2.05},{"s":"41103","t":0.177,"v":2.18},{"s":"41103","t":0.18,"v":2.32},{"s":"41103","t":0.1834,"v":2.25},{"s":"41103","t":0.1864,"v":2.38},{"s":"41103","t":0.1886,"v":2.51},{"s":"41103","t":0.1916,"v":2.38},{"s":"41103","t":0.1946,"v":2.05},{"s":"41103","t":0.198,"v":3.43},{"s":"41103","t":0.201,"v":2.38},{"s":"41103","t":0.204,"v":2.32},{"s":"41103","t":0.207,"v":2.25},{"s":"41103","t":0.21,"v":2.05},{"s":"41103","t":0.2131,"v":2.18},{"s":"41103","t":0.2161,"v":2.32},{"s":"41103","t":0.2191,"v":2.05},{"s":"41103","t":0.2221,"v":1.99},{"s":"41103","t":0.2251,"v":2.05},{"s":"41103","t":0.2281,"v":2.05},{"s":"41103","t":0.2316,"v":1.86},{"s":"41103","t":0.2333,"v":1.53},
      {"s":"41102","t":0.1185,"v":0.0},{"s":"41102","t":0.1271,"v":0.08},{"s":"41102","t":0.1348,"v":0.14},{"s":"41102","t":0.14,"v":0.21},{"s":"41102","t":0.1451,"v":0.14},{"s":"41102","t":0.1494,"v":0.14},{"s":"41102","t":0.1529,"v":0.28},{"s":"41102","t":0.1572,"v":0.41},{"s":"41102","t":0.1615,"v":0.47},{"s":"41102","t":0.1649,"v":0.6},{"s":"41102","t":0.1684,"v":0.74},{"s":"41102","t":0.1718,"v":0.8},{"s":"41102","t":0.1752,"v":0.8},{"s":"41102","t":0.1787,"v":0.8},{"s":"41102","t":0.1826,"v":0.74},{"s":"41102","t":0.1856,"v":0.74},{"s":"41102","t":0.1886,"v":0.67},{"s":"41102","t":0.1916,"v":0.6},{"s":"41102","t":0.195,"v":0.6},{"s":"41102","t":0.1976,"v":0.54},{"s":"41102","t":0.2006,"v":0.54},{"s":"41102","t":0.2036,"v":0.6},{"s":"41102","t":0.2066,"v":0.54},{"s":"41102","t":0.2096,"v":0.47},{"s":"41102","t":0.2131,"v":0.54},{"s":"41102","t":0.2161,"v":0.6},{"s":"41102","t":0.2191,"v":0.6},{"s":"41102","t":0.2221,"v":0.47},{"s":"41102","t":0.2251,"v":0.67},{"s":"41102","t":0.2277,"v":0.5}
    ]
  },
  "vconcat": [
    {
      "width": 654, "height": 202,
      "layer": [
        {"data": {"name": "ip"}, "mark": {"type": "line", "strokeWidth": 2.3},
         "encoding": {
           "x": {"field": "t", "type": "quantitative", "scale": {"domain": [0.115, 0.2335], "nice": false, "zero": false}, "axis": {"values": [0.12, 0.14, 0.16, 0.18, 0.2, 0.22], "labels": false, "title": null}},
           "y": {"field": "v", "type": "quantitative", "scale": {"domain": [0, 0.446], "nice": false}, "axis": {"values": [0.1, 0.2, 0.3, 0.4], "format": ".1f", "labelFont": "Liberation Serif", "title": "Iₚ = МА", "titleY": 86}},
           "color": {"field": "s", "type": "nominal", "scale": {"domain": ["41102", "41103", "41105", "41112", "41114"], "range": ["#E42528", "#FFC01A", "#3FAE48", "#1E4BA8", "#3B2A8E"]}, "legend": null}
         }},
        {"data": {"name": "nbi"}, "mark": {"type": "rect", "fill": "#FFE500", "stroke": "#333333", "strokeWidth": 1.2},
         "encoding": {"x": {"field": "t0", "type": "quantitative"}, "x2": {"field": "t1"}, "y": {"field": "y0", "type": "quantitative"}, "y2": {"field": "y1"}}},
        {"data": {"name": "annMid"}, "mark": {"type": "text", "font": "Liberation Serif", "fontSize": 25, "align": "center", "baseline": "alphabetic", "color": "#111"},
         "encoding": {"x": {"field": "t", "type": "quantitative"}, "y": {"field": "v", "type": "quantitative"}, "text": {"field": "text"}}},
        {"data": {"name": "annVar"}, "mark": {"type": "text", "font": "Liberation Serif", "fontSize": 26, "fontStyle": "italic", "align": "left", "baseline": "alphabetic", "color": "#111"},
         "encoding": {"x": {"field": "t", "type": "quantitative"}, "y": {"field": "v", "type": "quantitative"}, "text": {"field": "text"}}},
        {"data": {"name": "annSub"}, "mark": {"type": "text", "font": "Liberation Serif", "fontSize": 18, "align": "left", "baseline": "alphabetic", "color": "#111"},
         "encoding": {"x": {"field": "t", "type": "quantitative"}, "y": {"field": "v", "type": "quantitative"}, "text": {"field": "text"}}},
        {"data": {"name": "annReg"}, "mark": {"type": "text", "font": "Liberation Serif", "fontSize": 26, "align": "left", "baseline": "alphabetic", "color": "#111"},
         "encoding": {"x": {"field": "t", "type": "quantitative"}, "y": {"field": "v", "type": "quantitative"}, "text": {"field": "text"}}}
      ]
    },
    {
      "width": 654, "height": 204,
      "layer": [
        {"data": {"name": "ne"}, "transform": [{"filter": "datum.k === 'thick'"}], "mark": {"type": "line", "strokeWidth": 6, "opacity": 0.9},
         "encoding": {
           "x": {"field": "t", "type": "quantitative", "scale": {"domain": [0.115, 0.2335], "nice": false, "zero": false}, "axis": {"values": [0.12, 0.14, 0.16, 0.18, 0.2, 0.22], "labels": false, "title": null}},
           "y": {"field": "v", "type": "quantitative", "scale": {"domain": [0, 8.51], "nice": false}, "axis": {"values": [0, 2, 4, 6, 8], "format": "d", "labelFont": "Liberation Serif", "title": "nₑ, 10¹⁹ м⁻³", "titleY": 80}},
           "color": {"field": "s", "type": "nominal", "scale": {"domain": ["41102", "41103", "41105", "41112", "41114"], "range": ["#E42528", "#FFC01A", "#3FAE48", "#1E4BA8", "#3B2A8E"]}, "legend": null}
         }},
        {"data": {"name": "ne"}, "transform": [{"filter": "datum.k === 'thin'"}], "mark": {"type": "line", "strokeWidth": 1.4},
         "encoding": {"x": {"field": "t", "type": "quantitative"}, "y": {"field": "v", "type": "quantitative"}, "color": {"field": "s", "type": "nominal", "legend": null}}},
        {"data": {"name": "ne"}, "transform": [{"filter": "datum.k === 'thin'"}], "mark": {"type": "point", "shape": "M-1,-0.7H1M0,-0.7V0.7M-1,0.7H1", "filled": false, "size": 100, "strokeWidth": 2.2, "opacity": 1},
         "encoding": {"x": {"field": "t", "type": "quantitative"}, "y": {"field": "v", "type": "quantitative"}, "color": {"field": "s", "type": "nominal", "legend": null}}}
      ]
    },
    {
      "width": 654, "height": 202,
      "layer": [
        {"data": {"name": "te"}, "mark": {"type": "line", "strokeWidth": 1.4},
         "encoding": {
           "x": {"field": "t", "type": "quantitative", "scale": {"domain": [0.115, 0.2335], "nice": false, "zero": false}, "axis": {"values": [0.12, 0.14, 0.16, 0.18, 0.2, 0.22], "labels": false, "title": null}},
           "y": {"field": "v", "type": "quantitative", "scale": {"domain": [0, 1510], "nice": false}, "axis": {"values": [400, 800, 1200], "format": "d", "labelFont": "Liberation Serif", "title": "Tₑ, кэВ", "titleY": 110}},
           "color": {"field": "s", "type": "nominal", "scale": {"domain": ["41102", "41103", "41105", "41112", "41114"], "range": ["#E42528", "#FFC01A", "#3FAE48", "#1E4BA8", "#3B2A8E"]}, "legend": null}
         }},
        {"data": {"name": "te"}, "mark": {"type": "point", "shape": "M-0.8,-1H0.8M0,-1V1M-0.8,1H0.8", "filled": false, "size": 130, "strokeWidth": 2.6, "opacity": 1},
         "encoding": {"x": {"field": "t", "type": "quantitative"}, "y": {"field": "v", "type": "quantitative"}, "color": {"field": "s", "type": "nominal", "legend": null}}}
      ]
    },
    {
      "width": 654, "height": 203,
      "layer": [
        {"data": {"name": "we"}, "mark": {"type": "line", "strokeWidth": 1.4},
         "encoding": {
           "x": {"field": "t", "type": "quantitative", "scale": {"domain": [0.115, 0.2335], "nice": false, "zero": false}, "axis": {"values": [0.12, 0.14, 0.16, 0.18, 0.2, 0.22], "format": ".2f", "labelFont": "Liberation Serif", "title": "t, с", "titleFontSize": 25, "titleY": 34, "titleBaseline": "top"}},
           "y": {"field": "v", "type": "quantitative", "scale": {"domain": [0, 8.05], "nice": false}, "axis": {"values": [0, 2, 4, 6, 8], "format": "d", "labelFont": "Liberation Serif", "title": "Wₑ, кДж", "titleY": 90}},
           "color": {"field": "s", "type": "nominal", "scale": {"domain": ["41102", "41103", "41105", "41112", "41114"], "range": ["#E42528", "#FFC01A", "#3FAE48", "#1E4BA8", "#3B2A8E"]}, "legend": null}
         }},
        {"data": {"name": "we"}, "mark": {"type": "point", "shape": "M-1,-0.8H1M0,-0.8V0.8M-1,0.8H1", "filled": false, "size": 100, "strokeWidth": 2.4, "opacity": 1},
         "encoding": {"x": {"field": "t", "type": "quantitative"}, "y": {"field": "v", "type": "quantitative"}, "color": {"field": "s", "type": "nominal", "legend": null}}}
      ]
    }
  ]
}
